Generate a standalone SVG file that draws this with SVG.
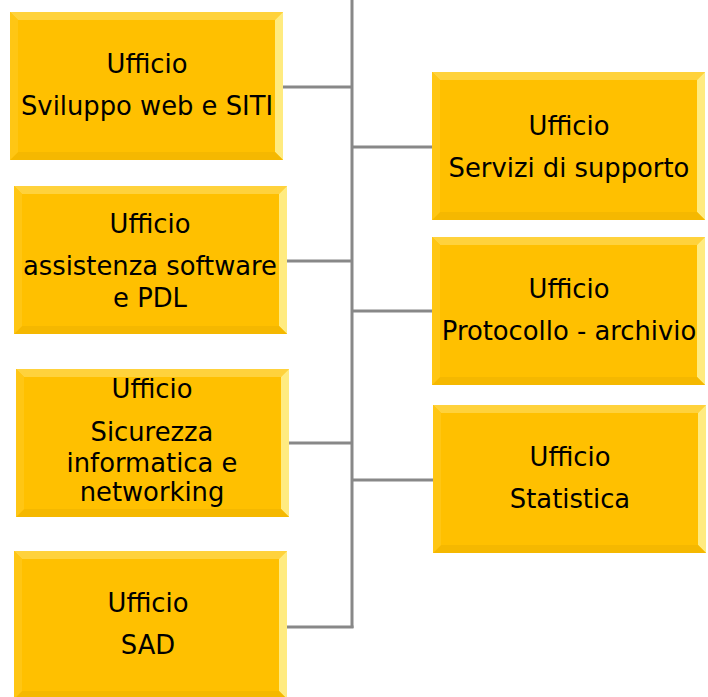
<svg xmlns="http://www.w3.org/2000/svg" xmlns:xlink="http://www.w3.org/1999/xlink" width="708" height="697" viewBox="0 0 708 697">
<style>
.lbl{font-family:"DejaVu Sans","Liberation Sans",sans-serif;font-size:25.8px;fill:#000;text-anchor:middle}
.conn{stroke:#888;stroke-width:3;fill:none}
</style>
<defs>
<g id="box">
<rect x="0" y="0" width="273" height="148" fill="#FFC000"/>
<polygon points="0,0 273,0 265,8 8,8" fill="#FFD23C"/>
<polygon points="273,0 273,148 265,140 265,8" fill="#FFEB80"/>
<polygon points="0,148 273,148 265,140 8,140" fill="#F5B800"/>
<polygon points="0,0 8,8 8,140 0,148" fill="#FFC614"/>
<rect x="8" y="8" width="257" height="132" fill="#FFC000"/>
</g>
</defs>
<g id="connectors">
<line class="conn" x1="352" y1="0" x2="352" y2="628"/>
<line class="conn" x1="283" y1="87" x2="352" y2="87"/>
<line class="conn" x1="287" y1="261" x2="352" y2="261"/>
<line class="conn" x1="288" y1="443" x2="352" y2="443"/>
<line class="conn" x1="286" y1="627" x2="353.5" y2="627"/>
<line class="conn" x1="352" y1="147" x2="432" y2="147"/>
<line class="conn" x1="352" y1="311" x2="432" y2="311"/>
<line class="conn" x1="352" y1="480" x2="433" y2="480"/>
</g>
<g id="n1"><use xlink:href="#box" x="10" y="12"/>
<text class="lbl" x="147" y="73">Ufficio</text><text class="lbl" x="147" y="115">Sviluppo web e SITI</text></g>
<g id="n2"><use xlink:href="#box" x="14" y="186"/>
<text class="lbl" x="150" y="233">Ufficio</text><text class="lbl" x="150" y="275">assistenza software</text><text class="lbl" x="150" y="307">e PDL</text></g>
<g id="n3"><use xlink:href="#box" x="16" y="369"/>
<text class="lbl" x="152" y="398">Ufficio</text><text class="lbl" x="152" y="441">Sicurezza</text><text class="lbl" x="152" y="472">informatica e</text><text class="lbl" x="152" y="501">networking</text></g>
<g id="n4"><use xlink:href="#box" x="14" y="551"/>
<text class="lbl" x="148" y="612">Ufficio</text><text class="lbl" x="148" y="654">SAD</text></g>
<g id="nA"><use xlink:href="#box" x="432" y="72"/>
<text class="lbl" x="569" y="135">Ufficio</text><text class="lbl" x="569" y="177">Servizi di supporto</text></g>
<g id="nB"><use xlink:href="#box" x="432" y="237"/>
<text class="lbl" x="569" y="298">Ufficio</text><text class="lbl" x="569" y="340">Protocollo - archivio</text></g>
<g id="nC"><use xlink:href="#box" x="433" y="405"/>
<text class="lbl" x="570" y="466">Ufficio</text><text class="lbl" x="570" y="508">Statistica</text></g>
</svg>
